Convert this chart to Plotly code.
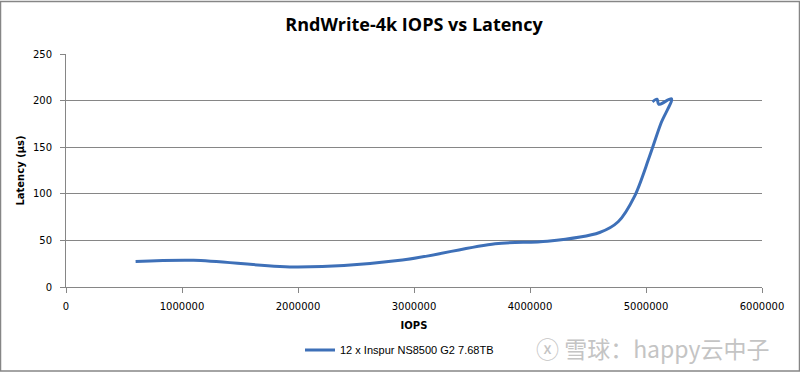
import plotly.graph_objects as go

iops = [600000, 1100000, 2000000, 2900000, 3700000, 4150000, 4600000, 4760000, 4900000, 5030000, 5130000, 5220000, 5110000, 5095000, 5056000]
latency = [27.4, 28.7, 21.5, 29.0, 46.5, 49.0, 58.5, 70.0, 97.0, 140.0, 176.0, 202.0, 196.0, 201.5, 198.7]
series_name = "12 x Inspur NS8500 G2 7.68TB"
x_ticks = [0, 1000000, 2000000, 3000000, 4000000, 5000000, 6000000]
y_ticks = [0, 50, 100, 150, 200, 250]

W, H = 800, 377
ml, mr, mt, mb = 66, 38, 54, 86
pw, ph = W - ml - mr, H - mt - mb

fig = go.Figure()
fig.add_trace(go.Scatter(
    x=iops, y=latency, mode="lines", name=series_name,
    line=dict(color="#3e70b8", width=3, shape="spline", smoothing=0.9),
))

fig.update_layout(
    width=W, height=H,
    margin=dict(l=ml, r=mr, t=mt, b=mb),
    paper_bgcolor="white", plot_bgcolor="white",
    title=dict(text="<b>RndWrite-4k IOPS vs Latency</b>", x=0.5, xref="paper", y=1 - 25 / H, yanchor="middle",
               font=dict(family="Open Sans, sans-serif", size=18, color="#000")),
    font=dict(family="DejaVu Sans, Verdana, sans-serif", size=10, color="#000"),
    xaxis=dict(range=[0, 6000000], tickvals=x_ticks, ticktext=[str(v) for v in x_ticks],
               showgrid=False, zeroline=False, showline=True, linecolor="#868686", linewidth=1,
               ticks="outside", ticklen=5, tickcolor="#868686", ticklabelstandoff=5,
               title=dict(text="<b>IOPS</b>", font=dict(size=10), standoff=10)),
    yaxis=dict(range=[0, 250], tickvals=y_ticks, showgrid=True, gridcolor="#868686", gridwidth=1,
               zeroline=False, showline=True, linecolor="#868686", linewidth=1,
               ticks="outside", ticklen=5, tickcolor="#868686", ticklabelstandoff=6,
               title=dict(text="<b>Latency (µs)</b>", font=dict(size=10), standoff=6)),
    legend=dict(orientation="h", x=(300 - ml) / pw, xanchor="left", y=(mt + ph - 355) / ph, yanchor="middle",
                font=dict(family="Liberation Sans, Arial, sans-serif", size=11), bgcolor="rgba(0,0,0,0)"),
    showlegend=True,
)

fig.add_shape(type="rect", xref="paper", yref="paper",
              x0=(-ml + 0.5) / pw, x1=1 + (mr - 0.5) / pw,
              y0=(-mb + 0.5) / ph, y1=1 + (mt - 0.5) / ph,
              line=dict(color="#868686", width=1.5), fillcolor="rgba(0,0,0,0)", layer="below")

fig.add_annotation(text="ⓧ 雪球：happy云中子", xref="paper", yref="paper",
                   x=(652 - ml) / pw, y=(mt + ph - 353) / ph, xanchor="center", yanchor="middle",
                   showarrow=False, font=dict(family="Noto Sans CJK SC", size=23, color="#c4c4c4"))

fig.write_html("out.html", config={"displayModeBar": False},
               post_script="document.body.style.margin='0';document.body.style.padding='0';document.body.style.overflow='hidden';")
